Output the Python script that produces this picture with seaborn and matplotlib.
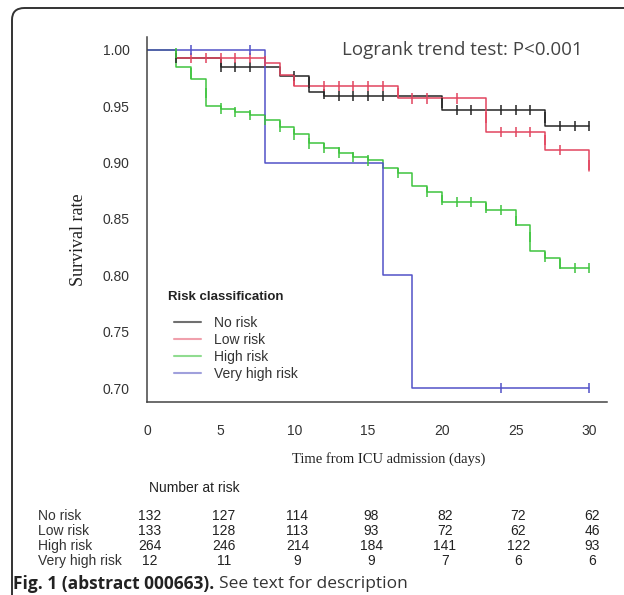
import numpy as np
import pandas as pd
import matplotlib
matplotlib.use("Agg")
import matplotlib.pyplot as plt
import matplotlib.transforms as mtransforms
from matplotlib.patches import FancyBboxPatch
import seaborn as sns

# --------------------------
# Datos
# --------------------------
groups = ["No risk", "Low risk", "High risk", "Very high risk"]
colors = ["#262626", "#e2455f", "#3fc43f", "#5252c8"]
legend_colors = ["#707070", "#f0a0ac", "#90dc90", "#a0a0dc"]

no_risk_t = [0, 2, 5, 9, 11, 12, 20, 27, 30]
no_risk_s = [1.0, 0.993, 0.985, 0.977, 0.963, 0.959, 0.947, 0.9325, 0.9325]
no_risk_ct = [2, 5, 6, 7, 10, 11, 12, 13, 14, 15, 16, 20, 21, 22, 24, 25, 26, 27, 28, 29, 30]
no_risk_cs = [0.993, 0.985, 0.985, 0.985, 0.977, 0.971, 0.961, 0.959, 0.959, 0.959, 0.959,
              0.953, 0.947, 0.947, 0.947, 0.947, 0.947, 0.940, 0.9325, 0.9325, 0.9325]

low_risk_t = [0, 2, 8, 9, 10, 17, 23, 27, 30]
low_risk_s = [1.0, 0.993, 0.988, 0.978, 0.968, 0.957, 0.9275, 0.911, 0.893]
low_risk_ct = [3, 4, 5, 6, 7, 8, 10, 12, 13, 14, 15, 16, 17, 18, 19, 21, 23, 24, 25, 26, 27, 28, 30]
low_risk_cs = [0.993, 0.993, 0.993, 0.993, 0.993, 0.990, 0.973, 0.968, 0.968, 0.968, 0.968,
               0.968, 0.962, 0.957, 0.957, 0.957, 0.940, 0.9275, 0.9275, 0.9275, 0.920,
               0.911, 0.898]

high_risk_t = [0, 2, 3, 4, 5, 6, 7, 8, 9, 10, 11, 12, 13, 14, 15, 16, 17, 18, 19, 20,
               23, 25, 26, 27, 28, 30]
high_risk_s = [1.0, 0.985, 0.974, 0.950, 0.948, 0.945, 0.942, 0.938, 0.932, 0.925, 0.917,
               0.913, 0.909, 0.905, 0.902, 0.895, 0.891, 0.879, 0.874, 0.865, 0.858, 0.845,
               0.822, 0.815, 0.8065, 0.8065]
high_risk_ct = [2, 3, 4, 5, 6, 7, 8, 9, 10, 11, 12, 13, 14, 15, 17, 19, 20, 21, 22, 23, 24,
                25, 26, 27, 28, 29, 30]
high_risk_cs = [0.997, 0.979, 0.962, 0.948, 0.945, 0.942, 0.938, 0.932, 0.925, 0.917, 0.913,
                0.909, 0.905, 0.902, 0.891, 0.874, 0.867, 0.865, 0.865, 0.860, 0.858, 0.848,
                0.834, 0.816, 0.810, 0.8065, 0.8065]

vhigh_risk_t = [0, 8, 16, 18, 30]
vhigh_risk_s = [1.0, 0.90, 0.80, 0.70, 0.70]
vhigh_risk_ct = [3, 7, 24, 30]
vhigh_risk_cs = [1.0, 1.0, 0.70, 0.70]

# Número en riesgo
risk_times = [0, 5, 10, 15, 20, 25, 30]
at_risk_no = [132, 127, 114, 98, 82, 72, 62]
at_risk_low = [133, 128, 113, 93, 72, 62, 46]
at_risk_high = [264, 246, 214, 184, 141, 122, 93]
at_risk_vhigh = [12, 11, 9, 9, 7, 6, 6]

y_ticks = [0.70, 0.75, 0.80, 0.85, 0.90, 0.95, 1.00]
x_ticks = [0, 5, 10, 15, 20, 25, 30]

# --------------------------
# Tablas largas
# --------------------------
curves = pd.concat([
    pd.DataFrame({"t": no_risk_t, "s": no_risk_s, "grupo": "No risk"}),
    pd.DataFrame({"t": low_risk_t, "s": low_risk_s, "grupo": "Low risk"}),
    pd.DataFrame({"t": high_risk_t, "s": high_risk_s, "grupo": "High risk"}),
    pd.DataFrame({"t": vhigh_risk_t, "s": vhigh_risk_s, "grupo": "Very high risk"}),
], ignore_index=True)

cens = pd.concat([
    pd.DataFrame({"t": no_risk_ct, "s": no_risk_cs, "grupo": "No risk"}),
    pd.DataFrame({"t": low_risk_ct, "s": low_risk_cs, "grupo": "Low risk"}),
    pd.DataFrame({"t": high_risk_ct, "s": high_risk_cs, "grupo": "High risk"}),
    pd.DataFrame({"t": vhigh_risk_ct, "s": vhigh_risk_cs, "grupo": "Very high risk"}),
], ignore_index=True)

palette = dict(zip(groups, colors))

# --------------------------
# Figura
# --------------------------
sns.set_style("white")
plt.rcParams["font.family"] = ["Liberation Sans", "DejaVu Sans"]

W, H = 624, 595
fig = plt.figure(figsize=(W / 100, H / 100), dpi=100)


def fx(px):
    return px / W


def fy(py):
    return 1 - py / H


ax = fig.add_axes([fx(147), fy(402), fx(460), 365 / H])

sns.lineplot(data=curves, x="t", y="s", hue="grupo", hue_order=groups, palette=palette,
             estimator=None, sort=False, drawstyle="steps-post", linewidth=1.1, ax=ax)
sns.scatterplot(data=cens, x="t", y="s", hue="grupo", hue_order=groups, palette=palette,
                marker="|", s=55, linewidth=1.1, legend=False, ax=ax, zorder=3)

ax.set_xlim(0, 31.2)
ax.set_ylim(0.6876, 1.0115)
ax.set_xticks(x_ticks)
ax.set_yticks(y_ticks)
ax.set_yticklabels([f"{v:.2f}" for v in y_ticks])
ax.tick_params(axis="both", direction="out", length=6.5, width=1, color="#444444",
               labelsize=10, labelcolor="#333333")
ax.tick_params(axis="x", pad=9)
ax.tick_params(axis="y", pad=6)
sns.despine(ax=ax)
for sp in ["left", "bottom"]:
    ax.spines[sp].set_color("#444444")
    ax.spines[sp].set_linewidth(1.1)

ax.set_xlabel("Time from ICU admission (days)", family="Liberation Serif", fontsize=10.5,
              color="#222222")
ax.set_ylabel("Survival rate", family="Liberation Serif", fontsize=13, color="#222222")
ax.xaxis.set_label_coords((389 - 147) / 460, (402 - 452) / 365)
ax.yaxis.set_label_coords((87 - 147) / 460, (402 - 240) / 365)

# Leyenda (título aparte para controlar el espacio)
handles, labels = ax.get_legend_handles_labels()
for h, c in zip(handles, legend_colors):
    h.set_color(c)
    h.set_linewidth(1.5)
leg = ax.legend(handles, labels, frameon=False, loc="upper left",
                bbox_to_anchor=((171 - 147) / 460, (402 - 313) / 365), fontsize=10,
                handlelength=1.95, handletextpad=0.95, labelspacing=0.21,
                borderaxespad=0, borderpad=0.2)
for txt in leg.get_texts():
    txt.set_color("#333333")
fig.text(fx(168), fy(297), "Risk classification", fontsize=9.5, weight="bold",
         color="#222222", va="center")

ax.text((583 - 147) / 460, (402 - 50) / 365, "Logrank trend test: P<0.001",
        transform=ax.transAxes, ha="right", va="center", fontsize=13.5, color="#444444",
        family="Open Sans")

# --------------------------
# Tabla "Number at risk"
# --------------------------
tr = mtransforms.blended_transform_factory(ax.transData, fig.transFigure)
fig.text(fx(149), fy(488), "Number at risk", fontsize=10, color="#222222", va="center")
rows = [("No risk", at_risk_no, 516), ("Low risk", at_risk_low, 531),
        ("High risk", at_risk_high, 546), ("Very high risk", at_risk_vhigh, 561)]
for name, vals, ypx in rows:
    fig.text(fx(38), fy(ypx), name, fontsize=10, color="#333333", va="center")
    for t, v in zip(risk_times, vals):
        ax.text(t + 0.2, fy(ypx), str(v), transform=tr, ha="center", va="center",
                fontsize=10, color="#222222", clip_on=False)

# Pie de figura
cap1 = fig.text(fx(13), fy(584), "Fig. 1 (abstract 000663).", fontsize=12.5, weight="bold",
                family="Open Sans", color="#222222", va="center")
fig.canvas.draw()
bb = cap1.get_window_extent()
fig.text((bb.x1 + 5) / W, fy(584), "See text for description", fontsize=12.5,
         family="Open Sans", color="#333333", va="center")

# Marco redondeado
frame = FancyBboxPatch((fx(12), fy(640)), fx(700), (640 - 8) / H,
                       boxstyle="round,pad=0,rounding_size=0.02",
                       transform=fig.transFigure, fill=False, edgecolor="#333333",
                       linewidth=1.4, clip_on=False)
fig.add_artist(frame)

fig.savefig("out.png", dpi=100)
